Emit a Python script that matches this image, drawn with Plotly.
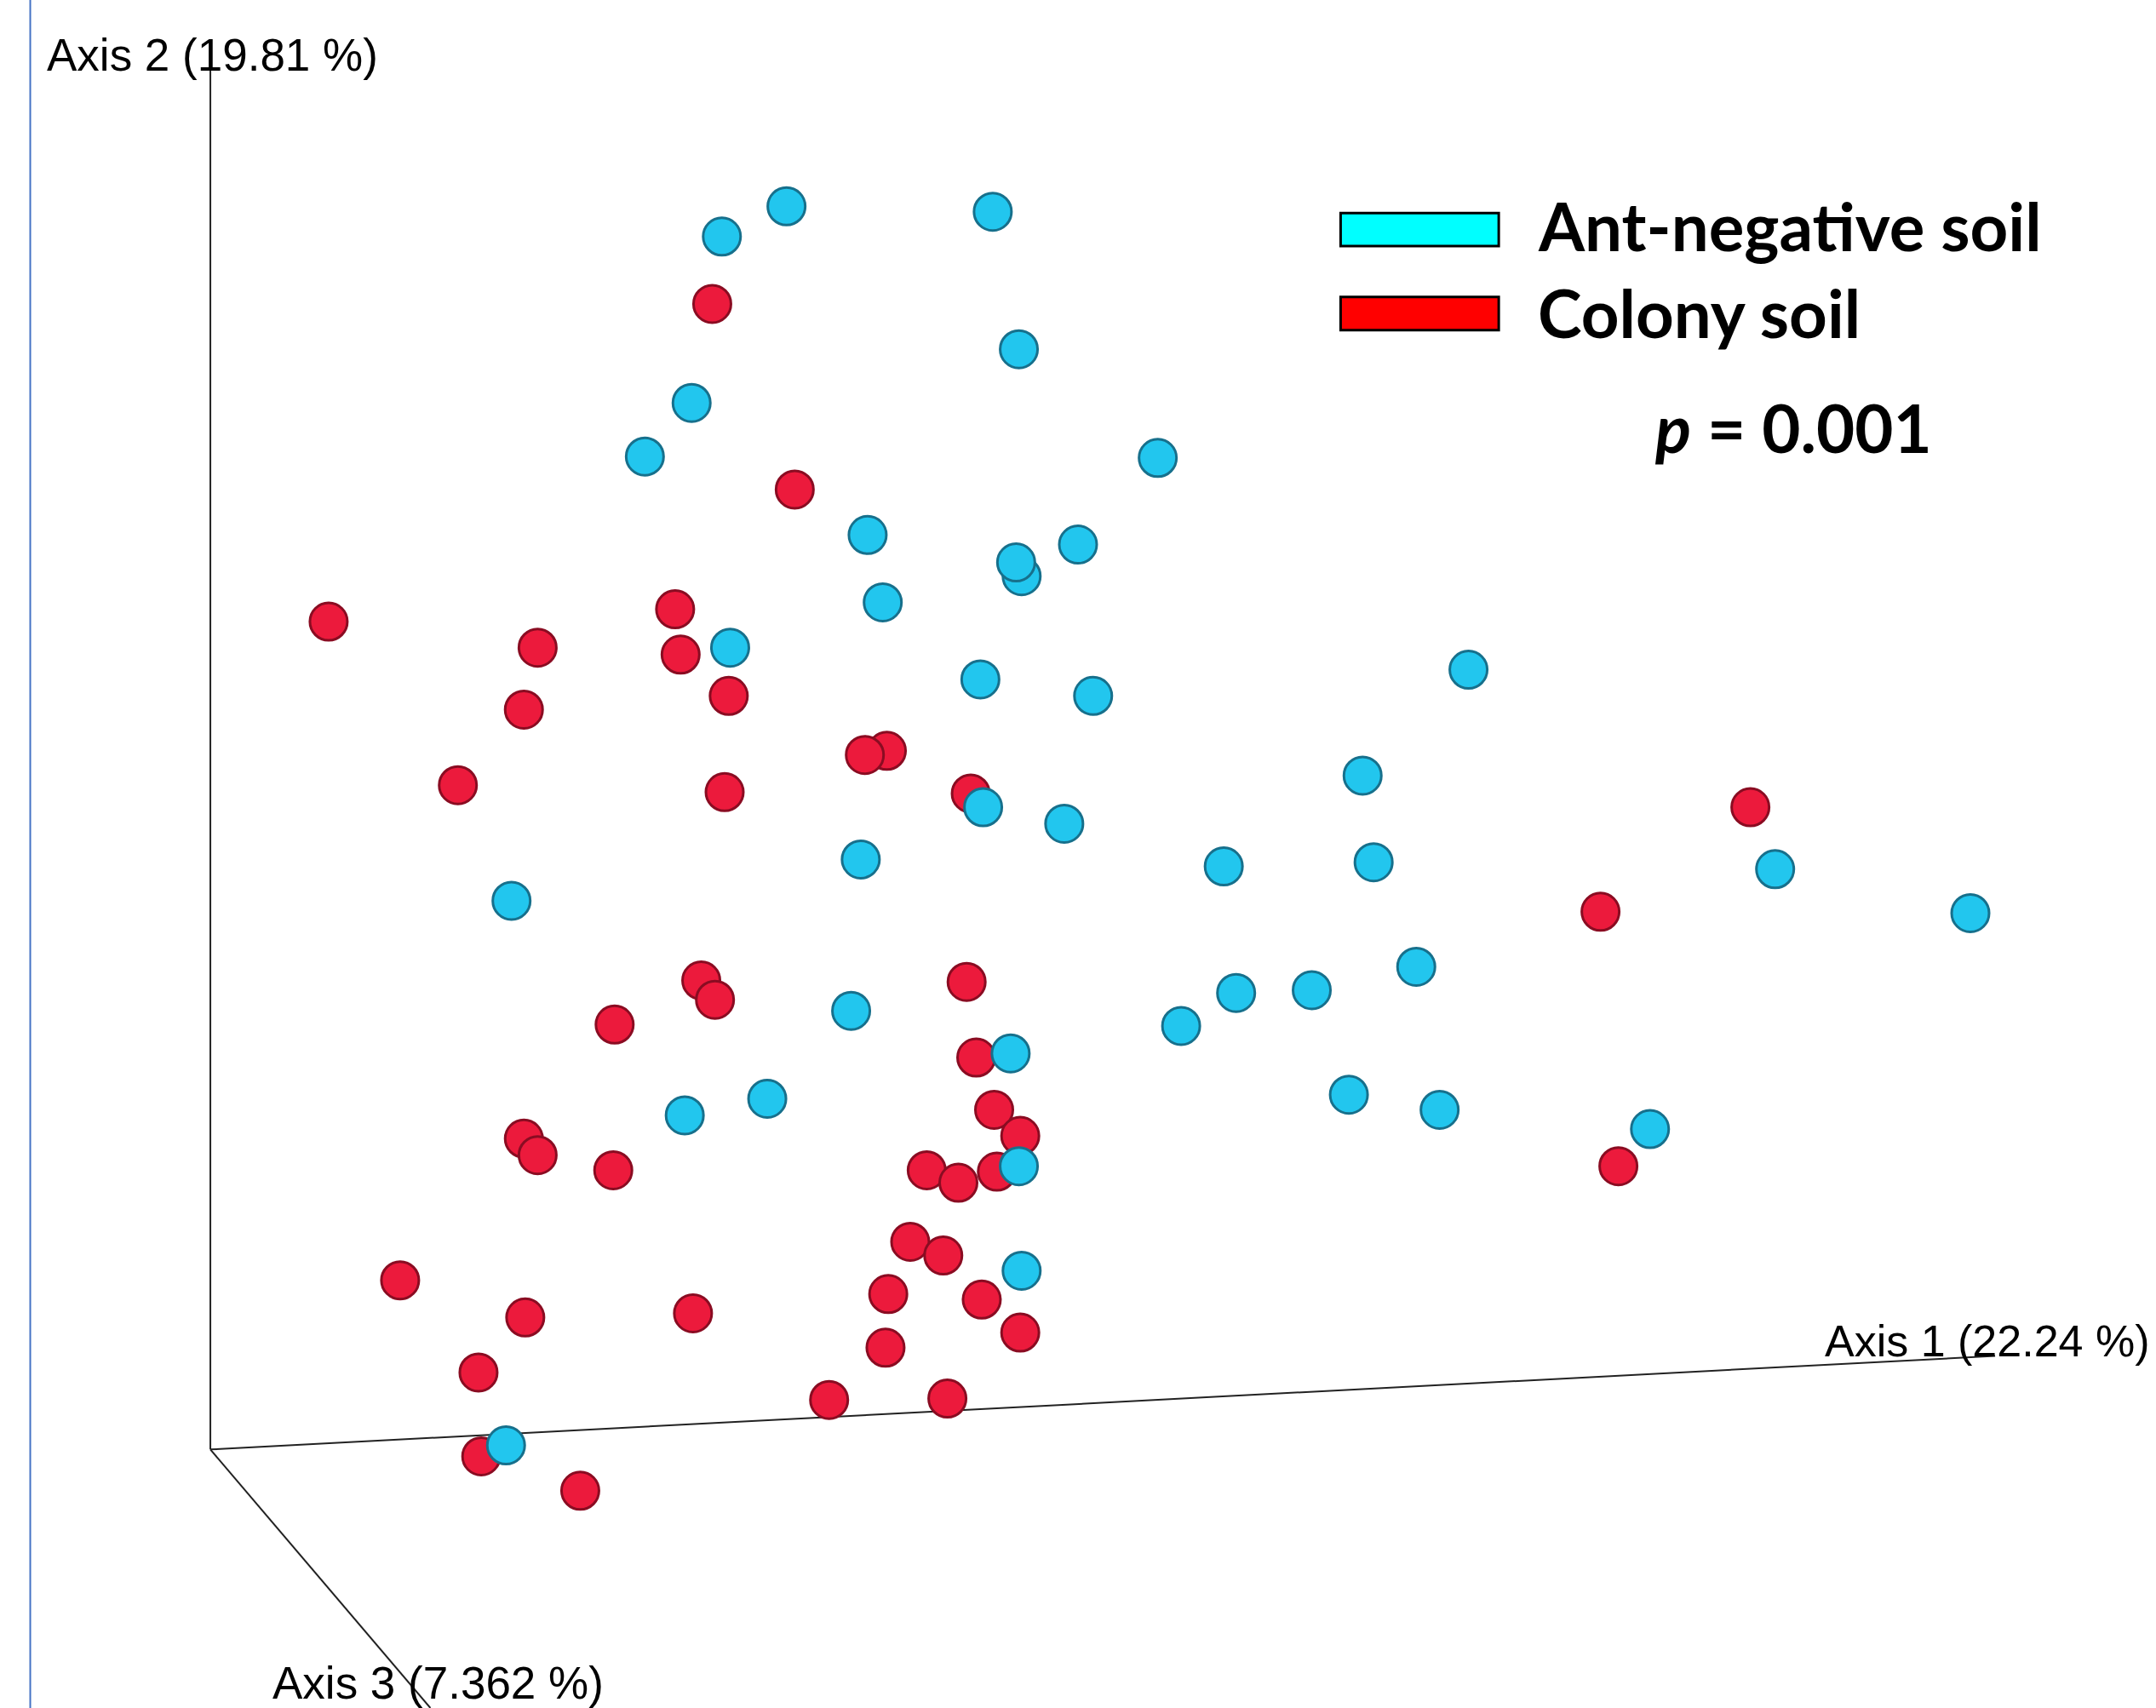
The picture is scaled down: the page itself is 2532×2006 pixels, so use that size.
import plotly.graph_objects as go

# Projected ordination coordinates (reference units)
neg_x = [572, 525, 722, 741, 503, 469, 842, 631, 784, 743, 739, 642, 531, 713, 795,
         1068, 991, 715, 774, 626, 890, 999, 372, 1291, 1433, 1030, 899, 954, 619,
         859, 735, 558, 498, 981, 1047, 1200, 741, 743, 368]
neg_y = [150, 172, 154, 254, 293, 332, 333, 389, 396, 419, 409, 438, 471, 494, 506,
         487, 564, 587, 599, 625, 630, 627, 655, 632, 664, 703, 722, 720, 735,
         746, 766, 799, 811, 796, 807, 821, 848, 924, 1051]

col_x = [518, 578, 239, 491, 391, 495, 530, 381, 645, 629, 706, 333, 527, 1273, 1164,
         510, 520, 703, 447, 710, 723, 381, 391, 742, 446, 674, 697, 725, 1177, 662,
         686, 291, 382, 504, 646, 714, 742, 644, 348, 603, 689, 350, 422]
col_y = [221, 356, 452, 443, 471, 476, 506, 516, 546, 549, 577, 571, 576, 587, 663,
         713, 727, 714, 745, 769, 807, 828, 840, 826, 851, 851, 860, 852, 848, 903,
         913, 931, 958, 955, 941, 945, 969, 980, 998, 1018, 1017, 1059, 1084]

group_names = ["Ant-negative soil", "Colony soil"]
group_fill = ["#22c6ee", "#ec1a3c"]
group_edge = ["#17708c", "#8a0c22"]
p_text = "<i>p</i> = 0.001"
axis_titles = ["Axis 1 (22.24 %)", "Axis 2 (19.81 %)", "Axis 3 (7.362 %)"]

# projected axis geometry (reference units)
origin = (153, 1054)
axis1_end = (1451, 986)
axis2_end = (153, 51)
axis3_end = (313, 1242)

fig = go.Figure()

for gx, gy, name, fc, ec in [
    (col_x, col_y, group_names[1], group_fill[1], group_edge[1]),
    (neg_x, neg_y, group_names[0], group_fill[0], group_edge[0]),
]:
    fig.add_trace(go.Scatter(
        x=gx, y=gy, mode="markers", name=name, showlegend=False,
        marker=dict(size=44, color=fc, line=dict(color=ec, width=3)),
        hoverinfo="skip",
    ))

shapes = []
# page border line at left
shapes.append(dict(type="line", x0=22, x1=22, y0=0, y1=1242,
                   line=dict(color="#4472c4", width=2), layer="below"))
for end in (axis1_end, axis2_end, axis3_end):
    shapes.append(dict(type="line", x0=origin[0], y0=origin[1], x1=end[0], y1=end[1],
                       line=dict(color="#222222", width=2), layer="below"))
# legend swatches
for y0, col in [(155, "#00ffff"), (216, "#ff0000")]:
    shapes.append(dict(type="rect", x0=975, x1=1090, y0=y0, y1=y0 + 24,
                       fillcolor=col, line=dict(color="black", width=3), layer="above"))

ann = []
axfont = dict(family="Liberation Sans, Arial, sans-serif", size=53, color="black")
ann.append(dict(x=33, y=40, text=axis_titles[1], showarrow=False, xanchor="left",
                yanchor="middle", font=axfont))
ann.append(dict(x=1565, y=975, text=axis_titles[0], showarrow=False, xanchor="right",
                yanchor="middle", font=dict(family="Liberation Sans, Arial, sans-serif",
                                            size=52, color="black")))
ann.append(dict(x=197, y=1224, text=axis_titles[2], showarrow=False, xanchor="left",
                yanchor="middle", font=axfont))
lgfont = dict(family="Lato, Noto Sans, sans-serif", size=78, color="black", weight="bold")
ann.append(dict(x=1117, y=164, text="<b>" + group_names[0] + "</b>", showarrow=False,
                xanchor="left", yanchor="middle", font=lgfont))
ann.append(dict(x=1117, y=227, text="<b>" + group_names[1] + "</b>", showarrow=False,
                xanchor="left", yanchor="middle", font=lgfont))
ann.append(dict(x=1202, y=311, text="<b>" + p_text + "</b>", showarrow=False,
                xanchor="left", yanchor="middle", font=lgfont))

fig.update_layout(
    width=2532, height=2006,
    margin=dict(l=0, r=0, t=0, b=0),
    paper_bgcolor="white", plot_bgcolor="white",
    xaxis=dict(range=[0, 1568], visible=False, fixedrange=True),
    yaxis=dict(range=[1242, 0], visible=False, fixedrange=True),
    shapes=shapes, annotations=ann,
)

fig.write_html("out.html", config={"displayModeBar": False})
